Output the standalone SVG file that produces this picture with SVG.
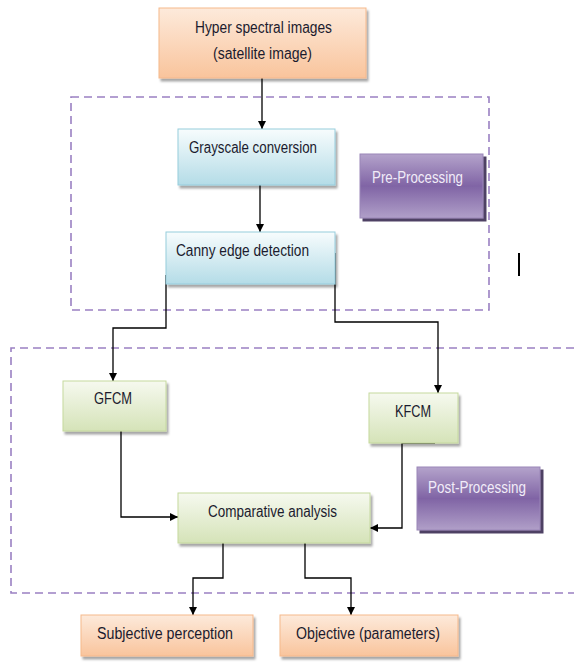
<svg xmlns="http://www.w3.org/2000/svg" width="574" height="662" viewBox="0 0 574 662">
<defs>
<linearGradient id="gOrange" x1="0" y1="0" x2="0" y2="1"><stop offset="0" stop-color="#fdeadb"/><stop offset="1" stop-color="#f9c49c"/></linearGradient>
<linearGradient id="gBlue" x1="0" y1="0" x2="0" y2="1"><stop offset="0" stop-color="#f7fcfd"/><stop offset="1" stop-color="#b4dce7"/></linearGradient>
<linearGradient id="gGreen" x1="0" y1="0" x2="0" y2="1"><stop offset="0" stop-color="#f6f9ef"/><stop offset="1" stop-color="#d5e3b8"/></linearGradient>
<linearGradient id="gPurple" x1="0" y1="0" x2="0" y2="1"><stop offset="0" stop-color="#b4a3cb"/><stop offset="0.5" stop-color="#8064a5"/><stop offset="1" stop-color="#b09fc8"/></linearGradient>
<filter id="sh" x="-10%" y="-10%" width="125%" height="135%"><feDropShadow dx="2" dy="3" stdDeviation="1" flood-color="#000" flood-opacity="0.35"/></filter>
<filter id="shP" x="-10%" y="-10%" width="125%" height="135%"><feDropShadow dx="3" dy="3" stdDeviation="0.6" flood-color="#3b2d52" flood-opacity="0.9"/></filter>
<marker id="ah" viewBox="0 0 10 10" refX="10" refY="5" markerWidth="8" markerHeight="8" markerUnits="userSpaceOnUse" orient="auto"><path d="M0,0 L10,5 L0,10 z" fill="#000"/></marker>
</defs>
<style>
.t{font-family:"Liberation Sans",Arial,sans-serif;font-size:16px;fill:#1b1b2e;}
.tp{font-family:"Liberation Sans",Arial,sans-serif;font-size:16px;fill:#f1ecf8;}
.or{fill:url(#gOrange);stroke:#f5b98c;stroke-width:1;filter:url(#sh);}
.bl{fill:url(#gBlue);stroke:#96cddc;stroke-width:1;filter:url(#sh);}
.gr{fill:url(#gGreen);stroke:#c5d99e;stroke-width:1;filter:url(#sh);}
.pu{fill:url(#gPurple);stroke:#9a86b8;stroke-width:1;filter:url(#shP);}
.dash{fill:none;stroke:#9a80c2;stroke-width:1.6;stroke-dasharray:8 5;}
.c{fill:none;stroke:#000;stroke-width:1.3;}
</style>
<rect width="574" height="662" fill="#fff"/>
<g id="regions">
<path class="dash" d="M71,97 H489 V310 H71 Z"/>
<path class="dash" d="M574,348 H11 V593 H574"/>
</g>
<g id="connectors">
<path class="c" d="M262,78 V129" marker-end="url(#ah)"/>
<path class="c" d="M260,185 V232" marker-end="url(#ah)"/>
<path class="c" d="M166,275 V328 H113 V381" marker-end="url(#ah)"/>
<path class="c" d="M335,253 V322 H438 V393" marker-end="url(#ah)"/>
<path class="c" d="M121,431 V517 H178" marker-end="url(#ah)"/>
<path class="c" d="M435,443 H402 V528 H370" marker-end="url(#ah)"/>
<path class="c" d="M223,543 V578 H193 V615" marker-end="url(#ah)"/>
<path class="c" d="M305,543 V578 H351 V615" marker-end="url(#ah)"/>
</g>
<g id="hyper"><rect class="or" x="159" y="8" width="207" height="70"/>
<text class="t" x="195" y="33" textLength="137" lengthAdjust="spacingAndGlyphs">Hyper spectral images</text>
<text class="t" x="213" y="59" textLength="99" lengthAdjust="spacingAndGlyphs">(satellite image)</text></g>
<g id="gray"><rect class="bl" x="178" y="129" width="157" height="56"/>
<text class="t" x="189" y="153" textLength="128" lengthAdjust="spacingAndGlyphs">Grayscale conversion</text></g>
<g id="pre"><rect class="pu" x="360" y="154" width="123" height="64"/>
<text class="tp" x="372" y="183" textLength="91" lengthAdjust="spacingAndGlyphs">Pre-Processing</text></g>
<g id="canny"><rect class="bl" x="166" y="232" width="169" height="52"/>
<text class="t" x="176" y="256" textLength="133" lengthAdjust="spacingAndGlyphs">Canny edge detection</text></g>
<g id="gfcm"><rect class="gr" x="63" y="381" width="103" height="50"/>
<text class="t" x="94" y="404" textLength="38" lengthAdjust="spacingAndGlyphs">GFCM</text></g>
<g id="kfcm"><rect class="gr" x="369" y="393" width="89" height="50"/>
<text class="t" x="395" y="417" textLength="36" lengthAdjust="spacingAndGlyphs">KFCM</text></g>
<g id="post"><rect class="pu" x="417" y="467" width="123" height="63"/>
<text class="tp" x="428" y="493" textLength="98" lengthAdjust="spacingAndGlyphs">Post-Processing</text></g>
<g id="comp"><rect class="gr" x="178" y="493" width="192" height="50"/>
<text class="t" x="208" y="517" textLength="129" lengthAdjust="spacingAndGlyphs">Comparative analysis</text></g>
<g id="subj"><rect class="or" x="81" y="615" width="172" height="41"/>
<text class="t" x="97" y="639" textLength="136" lengthAdjust="spacingAndGlyphs">Subjective perception</text></g>
<g id="obj"><rect class="or" x="280" y="615" width="178" height="41"/>
<text class="t" x="296" y="639" textLength="144" lengthAdjust="spacingAndGlyphs">Objective (parameters)</text></g>
<line x1="519" y1="253" x2="519" y2="276" stroke="#000" stroke-width="2"/>
</svg>
